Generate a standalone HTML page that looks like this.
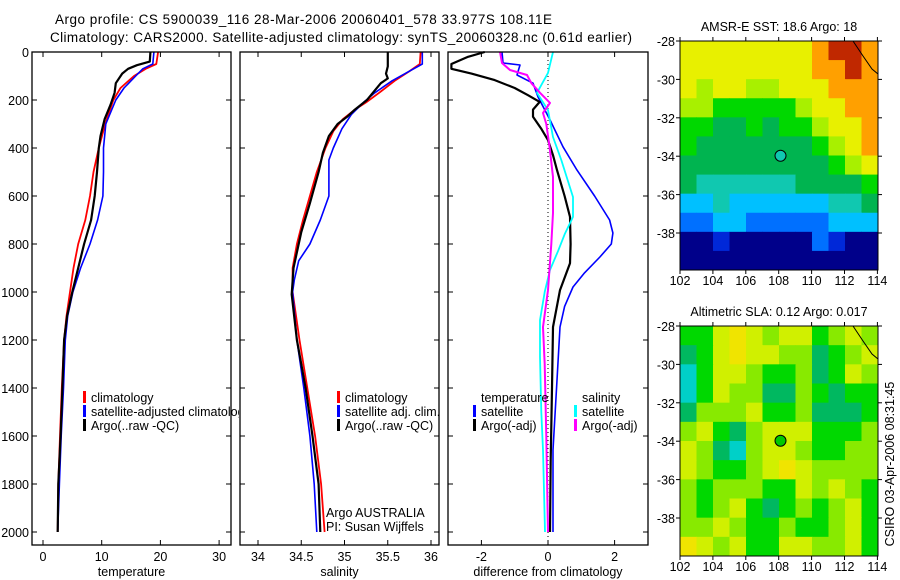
<!DOCTYPE html>
<html><head><meta charset="utf-8"><style>
html,body{margin:0;padding:0;background:#fff;}
svg{display:block;font-family:"Liberation Sans",sans-serif;}
</style></head><body>
<svg id="fig" width="900" height="580" viewBox="0 0 900 580" xmlns="http://www.w3.org/2000/svg">
<defs><clipPath id="c1"><rect x="32" y="52" width="207" height="493"/></clipPath></defs>
<text x="55" y="24" font-size="13.5" textLength="497">Argo profile: CS 5900039_116 28-Mar-2006 20060401_578 33.977S 108.11E</text>
<text x="50" y="42" font-size="13.5" textLength="582">Climatology: CARS2000. Satellite-adjusted climatology: synTS_20060328.nc (0.61d earlier)</text>
<g id="g"></g>
</svg>
<script>
// ---------- data ----------
const tDepth = [0,40,55,70,90,130,170,220,280,350,400,500,600,700,800,900,1000,1100,1200,1400,1600,1800,2000];
const tArgo  = [18.3,18.2,16,14.5,13.5,12.4,12.2,11.5,10.5,9.8,9.5,9.2,8.8,8.2,7,6,5,4.1,3.6,3.3,3,2.6,2.5];
const tClimDepth = [0,50,70,100,150,200,300,400,500,600,700,800,900,1000,1100,1200,1400,1600,1800,2000];
const tClim  = [19.6,19.3,17.5,15.5,13.2,12,10.6,9.5,8.6,8,7.2,6,5.2,4.6,4,3.6,3.2,2.9,2.6,2.5];
const tSat   = [18.9,18.7,17,15.8,13.8,12.4,10.7,10.3,10.3,10.2,9.3,8,6.4,5.1,4.2,3.8,3.5,3.1,2.8,2.5];
const sArgoDepth = [0,60,90,110,130,160,200,240,270,300,350,420,500,630,750,900,1010,1200,1400,1600,1800,2000];
const sArgo = [35.5,35.5,35.48,35.5,35.42,35.35,35.26,35.12,35.03,34.92,34.82,34.75,34.7,34.6,34.5,34.41,34.39,34.45,34.55,34.63,34.7,34.72];
const sClimDepth = [0,50,80,120,170,210,240,280,330,400,500,600,700,800,900,1000,1200,1400,1600,1800,2000];
const sClim = [35.88,35.87,35.75,35.58,35.4,35.25,35.12,34.98,34.87,34.78,34.68,34.6,34.52,34.45,34.4,34.4,34.48,34.57,34.66,34.73,34.77];
const sSatDepth = [0,50,80,120,170,210,260,320,400,450,500,600,700,800,870,950,1000,1200,1400,1600,1800,2000];
const sSat = [35.9,35.9,35.75,35.55,35.35,35.22,35.08,34.97,34.87,34.82,34.82,34.82,34.72,34.6,34.47,34.42,34.4,34.45,34.53,34.6,34.65,34.68];
const dTArgoDepth = [0,20,50,70,90,117,150,180,208,240,270,320,367,430,492,600,687,800,880,992,1146,1400,1700,2000];
const dTArgo = [-1.9,-2.4,-2.9,-2.9,-2.3,-1.6,-1.0,-0.6,-0.25,-0.45,-0.45,-0.2,0,0.15,0.27,0.5,0.66,0.68,0.66,0.36,0.15,0.12,0.08,0.06];
const dTSatDepth = [0,46,54,96,130,187,283,395,492,600,700,754,800,854,920,979,1060,1146,1367,1658,2000];
const dTSat = [-1.38,-1.35,-0.84,-0.93,-0.45,-0.3,0.06,0.45,0.87,1.4,1.85,1.95,1.9,1.56,1.1,0.75,0.5,0.36,0.27,0.15,0.15];
const dSSatDepth = [0,87,170,242,354,450,604,687,760,830,908,1000,1117,1270,1500,1658,2000];
const dSSat = [0.15,0,-0.33,0,0.15,0.4,0.75,0.75,0.5,0.3,0.06,-0.1,-0.24,-0.24,-0.2,-0.15,-0.09];
const dSArgoDepth = [0,46,75,96,130,170,212,254,300,400,521,671,800,992,1146,1300,1600,2000];
const dSArgo = [-1.44,-1.38,-1.14,-0.63,-0.5,-0.24,0.06,-0.15,-0.05,0.05,0.15,0.15,0.1,0,-0.15,-0.1,-0.05,0];
const depthTicks = [0,200,400,600,800,1000,1200,1400,1600,1800,2000];
const tTicks = [0,10,20,30];
const sTicks = [34,34.5,35,35.5,36];
const sTickLabels = ["34","34.5","35","35.5","36"];
const dTicks = [-2,0,2];
const latTicks = [-28,-30,-32,-34,-36,-38];
const lonTicks = [102,104,106,108,110,112,114];
const sstGrid = ["88888888 9AA9","888888889 9A9","878877888999","776666678899","665565667889","655555556789","555555555678","544444455556","334333333445","223322222333","001000002100","000000000000"];
const slaGrid = ["224543442343","124544331234","024432231243","024331132122","133342231112","342134442223","431034432233","432234543333","323332243432","323421232342","334322322342","543422443342"];
// ---------- helpers ----------
const NS="http://www.w3.org/2000/svg", G=document.getElementById('g');
function el(tag,attrs,parent){const e=document.createElementNS(NS,tag);for(const k in attrs)e.setAttribute(k,attrs[k]);(parent||G).appendChild(e);return e;}
const yD = d => 52 + d*0.24;
const xT = v => 43 + v*5.87;
const xS = v => 258 + (v-34)*86.5;
const xDf = v => 548 + v*33.3;
function line(xs,ds,xf,color,w,name,parent){
  const pts = ds.map((d,i)=>xf(xs[i]).toFixed(1)+","+yD(d).toFixed(1)).join(" ");
  const p = el('polyline',{points:pts,fill:'none',stroke:color,'stroke-width':w,'stroke-linejoin':'round'},parent);
  
  
}
function frame(x0,x1,ticksX,xf,labels,xlabel,name,leftLabels){
  const r = el('rect',{x:x0,y:52,width:x1-x0,height:493,fill:'none',stroke:'#000','stroke-width':1.3});
  
  
  ticksX.forEach((v,i)=>{
    const x=xf(v);
    el('line',{x1:x,y1:52,x2:x,y2:57,stroke:'#000'});
    el('line',{x1:x,y1:545,x2:x,y2:540,stroke:'#000'});
    const t=el('text',{x:x,y:561,'font-size':12.5,'text-anchor':'middle'});t.textContent=labels[i];
    
    
  });
  depthTicks.forEach(d=>{
    const y=yD(d);
    el('line',{x1:x0,y1:y,x2:x0+5,y2:y,stroke:'#000'});
    el('line',{x1:x1,y1:y,x2:x1-5,y2:y,stroke:'#000'});
    if(leftLabels){const t=el('text',{x:x0-3,y:y+5,'font-size':12.5,'text-anchor':'end'});t.textContent=d;
      
      }
  });
  const xl=el('text',{x:(x0+x1)/2,y:576,'font-size':12.5,'text-anchor':'middle'});xl.textContent=xlabel;
  
  
}
function legend(x,y,color,label,name,parent){
  el('rect',{x:x,y:y-11,width:3,height:12,fill:color},parent);
  const t=el('text',{x:x+8,y:y,'font-size':12.5},parent);t.textContent=label;
  
  
}
// ---------- panel 1 ----------
const p1=el('g',{'clip-path':'url(#c1)'});
line(tClim,tClimDepth,xT,'#f00',1.8,'temperature-climatology-line',p1);
line(tSat,tClimDepth,xT,'#00f',1.6,'temperature-satellite-line',p1);
line(tArgo,tDepth,xT,'#000',2.2,'temperature-argo-line',p1);
legend(83,402,'#f00','climatology','legend-climatology',p1);
legend(83,416,'#00f','satellite-adjusted climatology','legend-satellite-adjusted',p1);
legend(83,430,'#000','Argo(..raw -QC)','legend-argo',p1);
el('rect',{x:239,y:52,width:8,height:493,fill:'#fff'});
frame(32,231,tTicks,xT,tTicks.map(String),'temperature','temperature-panel',true);
// ---------- panel 2 ----------
line(sClim,sClimDepth,xS,'#f00',1.8,'salinity-climatology-line');
line(sSat,sSatDepth,xS,'#00f',1.6,'salinity-satellite-line');
line(sArgo,sArgoDepth,xS,'#000',2.2,'salinity-argo-line');
legend(337,402,'#f00','climatology','legend-sal-climatology');
legend(337,416,'#00f','satellite adj. clim.','legend-sal-satellite');
legend(337,430,'#000','Argo(..raw -QC)','legend-sal-argo');
[['Argo AUSTRALIA',517],['PI: Susan Wijffels',531]].forEach(([s,y])=>{const t=el('text',{x:326,y:y,'font-size':12.5});t.textContent=s;
  
  });
frame(240,439,sTicks,xS,sTickLabels,'salinity','salinity-panel',false);
// ---------- panel 3 ----------
el('line',{x1:548,y1:52,x2:548,y2:545,stroke:'#000','stroke-dasharray':'1,3'});
line(dTSat,dTSatDepth,xDf,'#00f',1.6,'diff-temperature-satellite-line');
line(dTArgo,dTArgoDepth,xDf,'#000',2.2,'diff-temperature-argo-line');
line(dSSat,dSSatDepth,xDf,'#0ff',1.8,'diff-salinity-satellite-line');
line(dSArgo,dSArgoDepth,xDf,'#f0f',2,'diff-salinity-argo-line');
const tt=el('text',{x:481,y:402,'font-size':12.5});tt.textContent='temperature';


const st=el('text',{x:582,y:402,'font-size':12.5});st.textContent='salinity';


legend(473,416,'#00f','satellite','legend-diff-temp-satellite');
legend(473,430,'#000','Argo(-adj)','legend-diff-temp-argo');
legend(574,416,'#0ff','satellite','legend-diff-sal-satellite');
legend(574,430,'#f0f','Argo(-adj)','legend-diff-sal-argo');
frame(448,648,dTicks,xDf,dTicks.map(String),'difference from climatology','difference-panel',false);
// ---------- maps ----------
const sstColors={'0':'#00008a','1':'#0028d8','2':'#0070ff','3':'#00c0ff','4':'#10c8b0','5':'#00b450','6':'#00d800','7':'#a8f000','8':'#e8f000','9':'#ffa000','A':'#c02800'};
const slaColors={'0':'#00d0c8','1':'#00b860','2':'#00d800','3':'#88ea00','4':'#d0f000','5':'#f0e400'};
function map(top,bottom,grid,colors,title,name,markFill){
  const x0=680,x1=878,cols=12,rows=12;
  const cw=(x1-x0)/cols, rh=(bottom-top)/rows;
  const lonX=v=>680+(v-102)*16.45;
  const latY=v=>top+(-28-v)*19.2;
  grid.forEach((row,r)=>{
    const cells=row.replace(/ /g,'');
    for(let c=0;c<cols;c++){
      const cell=el('rect',{x:x0+c*cw,y:top+r*rh,width:cw+0.5,height:rh+0.5,fill:colors[cells[c]]});
      
      
    }
  });
  el('path',{d:`M${x0+173},${top} L${x0+183},${top+15} L${x0+192},${top+28} L${x1},${top+33}`,fill:'none',stroke:'#000','stroke-width':1});
  const fr=el('rect',{x:x0,y:top,width:x1-x0,height:bottom-top,fill:'none',stroke:'#000','stroke-width':1});
  
  
  latTicks.forEach(v=>{const y=latY(v);el('line',{x1:x0-4,y1:y,x2:x0,y2:y,stroke:'#000'});el('line',{x1:x1,y1:y,x2:x1+4,y2:y,stroke:'#000'});
    const t=el('text',{x:x0-5,y:y+5,'font-size':12.5,'text-anchor':'end'});t.textContent=v;
    
    });
  lonTicks.forEach(v=>{const x=lonX(v);el('line',{x1:x,y1:top-4,x2:x,y2:top,stroke:'#000'});el('line',{x1:x,y1:bottom,x2:x,y2:bottom+4,stroke:'#000'});
    const t=el('text',{x:x,y:bottom+15,'font-size':12.5,'text-anchor':'middle'});t.textContent=v;
    
    });
  const tl=el('text',{x:779,y:top-10,'font-size':12.5,'text-anchor':'middle'});tl.textContent=title;
  
  
  const m=el('circle',{cx:lonX(108.11),cy:latY(-33.977),r:5.5,fill:markFill,stroke:'#000','stroke-width':1});
  
  
}
map(41,270,sstGrid,sstColors,'AMSR-E SST: 18.6 Argo: 18','sst-map','#10c8b0');
map(326,556,slaGrid,slaColors,'Altimetric SLA: 0.12 Argo: 0.017','sla-map','#00c800');
const cs=el('text',{x:0,y:0,'font-size':12.5,'text-anchor':'middle',transform:'translate(894,464) rotate(-90)'});cs.textContent='CSIRO 03-Apr-2006 08:31:45';


</script>
</body></html>
